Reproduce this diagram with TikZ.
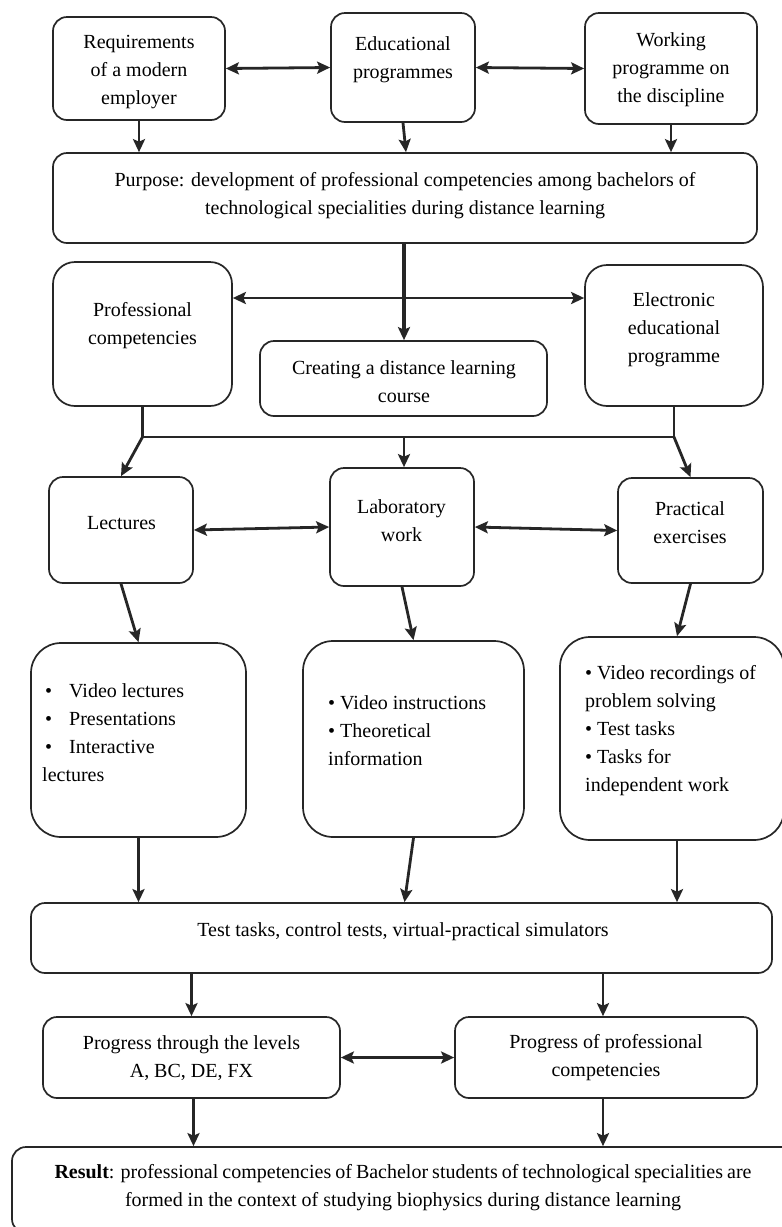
\documentclass[tikz,border=0pt]{standalone}
\usepackage{fontspec}
\setmainfont{Liberation Serif}
\usetikzlibrary{arrows.meta,calc}
\newcommand\figfont{\fontsize{20}{28}\selectfont}
\begin{document}
\begin{tikzpicture}[x=1pt,y=-1pt,
 box/.style={draw=black!85, line width=1.7pt, rounded corners=14pt, inner sep=0pt},
 bigbox/.style={box, rounded corners=30pt},
 txt/.style={align=center, font=\figfont, inner sep=0pt},
 ltxt/.style={align=left, font=\figfont, inner sep=0pt, anchor=west},
 tip/.tip={Stealth[length=13pt,width=12pt,inset=2.5pt]},
 arr/.style={line width=2.8pt, draw=black!85, -tip},
 dbl/.style={line width=2.8pt, draw=black!85, tip-tip},
 ln/.style={line width=2.8pt, draw=black!85}]
\useasboundingbox (0,0) rectangle (782,1227);
\clip (0,0) rectangle (782,1227);
\fill[white] (0,0) rectangle (782,1227);

% Row 1
\node[box, minimum width=172, minimum height=103] (req) at (139,68.5) {};
\node[txt] (reqT) at (139,72) {Requirements\\of a modern\\employer};
\node[box, minimum width=144, minimum height=109] (edu) at (403,67.5) {};
\node[txt] (eduT) at (403,60) {Educational\\programmes};
\node[box, minimum width=172, minimum height=111] (work) at (671,68.5) {};
\node[txt] (workT) at (671,70) {Working\\programme on\\the discipline};

% Purpose
\node[box, minimum width=704, minimum height=90] (purp) at (405,198) {};
\node[txt] (purpT) at (405,196) {Purpose: development of professional competencies among bachelors of\\technological specialities during distance learning};

% Row 2
\node[box, rounded corners=22pt, minimum width=179, minimum height=144] (prof) at (142.5,334) {};
\node[txt] (profT) at (142.5,326) {Professional\\competencies};
\node[box, rounded corners=22pt, minimum width=178, minimum height=141] (elec) at (674,335.5) {};
\node[txt] (elecT) at (674,330) {Electronic\\educational\\programme};
\node[box, minimum width=287, minimum height=75] (crea) at (403.5,378.5) {};
\node[txt] (creaT) at (404,382) {Creating a distance learning\\course};

% Row 3
\node[box, minimum width=144, minimum height=106] (lect) at (121,530) {};
\node[txt] (lectT) at (121.5,523) {Lectures};
\node[box, minimum width=144, minimum height=118] (lab) at (402,527) {};
\node[txt] (labT) at (401.5,521) {Laboratory\\work};
\node[box, minimum width=145, minimum height=105] (prac) at (690.5,530.5) {};
\node[txt] (pracT) at (690,523) {Practical\\exercises};

% Row 4
\node[bigbox, minimum width=215, minimum height=194] (b1) at (138.5,740) {};
\node[ltxt] (b1T) at (42,733) {\hspace*{3pt}\textbullet\hspace{17pt}Video lectures\\\hspace*{3pt}\textbullet\hspace{17pt}Presentations\\\hspace*{3pt}\textbullet\hspace{17pt}Interactive\\lectures};
\node[bigbox, minimum width=221, minimum height=196] (b2) at (413.5,739) {};
\node[ltxt] (b2T) at (328,731) {\textbullet\ Video instructions\\\textbullet\ Theoretical\\information};
\node[bigbox, minimum width=224, minimum height=203] (b3) at (672,738.5) {};
\node[ltxt] (b3T) at (585,731) {\textbullet\ Video recordings of\\problem solving\\\textbullet\ Test tasks\\\textbullet\ Tasks for\\independent work};

% Test
\node[box, minimum width=741, minimum height=70] (test) at (401.5,938) {};
\node[txt] (testT) at (403,932) {Test tasks, control tests, virtual-practical simulators};

% Progress
\node[box, minimum width=297, minimum height=81] (pg1) at (191.5,1057.5) {};
\node[txt] (pg1T) at (191.5,1058) {Progress through the levels\\A, BC, DE, FX};
\node[box, minimum width=302, minimum height=81] (pg2) at (606,1057.5) {};
\node[txt] (pg2T) at (606,1058) {Progress of professional\\competencies};

% Result
\node[box, minimum width=784, minimum height=86] (res) at (404,1190) {};
\node[txt] (resT) at (403,1188) {\makebox[697pt][s]{\textbf{Result}: professional competencies of Bachelor students of technological specialities are}\\formed in the context of studying biophysics during distance learning};

% Connectors
\draw[dbl] (req.east) -- (edu.west);
\draw[dbl] (edu.east) -- (work.west);
\draw[arr] (req.south) -- (req.south |- purp.north);
\draw[arr] (edu.south) -- ($(edu.south |- purp.north)+(3,0)$);
\draw[arr] (work.south) -- (work.south |- purp.north);

\coordinate (h1) at (404,298);
\draw[arr, line width=3.2pt] (purp.south -| h1) -- (crea.north -| h1);
\draw[dbl] (h1 -| prof.east) -- (h1 -| elec.west);

\coordinate (br) at (404,437);
\draw[ln] (prof.south) -- (prof.south |- br) -- (elec.south |- br) -- (elec.south);
\draw[arr] (prof.south |- br) -- (lect.north);
\draw[arr] (br) -- (lab.north -| br);
\draw[arr] (elec.south |- br) -- (prac.north);

\draw[dbl] (lect.east) -- (lab.west);
\draw[dbl] (lab.east) -- (prac.west);

\draw[arr] (lect.south) -- (b1.north);
\draw[arr] (lab.south) -- (b2.north);
\draw[arr] (prac.south) -- ($(b3.north)+(5,0)$);

\draw[arr] (b1.south) -- (b1.south |- test.north);
\draw[arr] (b2.south) -- ($(b2.south |- test.north)+(-9,0)$);
\draw[arr] ($(b3.south)+(5,0)$) -- ($(b3.south |- test.north)+(5,0)$);

\draw[arr] (test.south -| pg1) -- (pg1.north);
\draw[arr] ($(test.south -| pg2)+(-3,0)$) -- ($(pg2.north)+(-3,0)$);
\draw[dbl] (pg1.east) -- (pg2.west);

\draw[arr] ($(pg1.south)+(2,0)$) -- ($(pg1.south |- res.north)+(2,0)$);
\draw[arr] ($(pg2.south)+(-3,0)$) -- ($(pg2.south |- res.north)+(-3,0)$);
\end{tikzpicture}
\end{document}
